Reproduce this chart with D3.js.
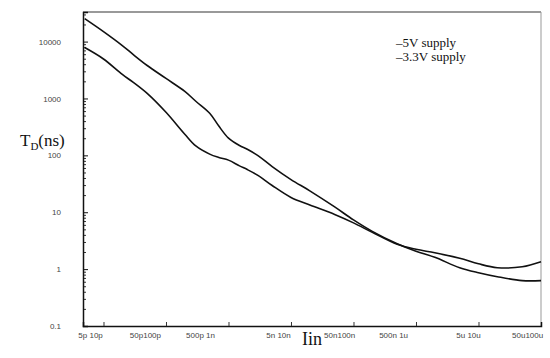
<!DOCTYPE html>
<html lang="en">

<head>
  <meta charset="UTF-8">
  <script src="https://cdn.jsdelivr.net/npm/d3@7"></script>
  <title>TD vs Iin</title>
  <style>
    body { margin: 0; background: white; }
    .tick text { font-family: "Liberation Sans", Arial, sans-serif; font-size: 8px; fill: #444; }
    .curve { fill: none; stroke: #111; stroke-width: 1.6; }
    .serif { font-family: "Liberation Serif", "Times New Roman", serif; fill: #111; }
  </style>
</head>

<body>
  <script>
    // input current (A)
    const current = [5e-12, 1e-11, 2e-11, 3e-11, 5e-11, 1e-10, 2e-10, 3e-10, 5e-10, 7e-10, 1e-9, 1.5e-9,
      2e-9, 3e-9, 5e-9, 1e-8, 2e-8, 5e-8, 1e-7, 2e-7, 5e-7, 1e-6, 2e-6, 5e-6, 1e-5, 2e-5, 5e-5, 1e-4];
    // delay (ns)
    const td5V = [25300, 14960, 8510, 5900, 3800, 2250, 1330, 893, 551, 327, 201, 149,
      128, 97.8, 63.4, 37.5, 23.8, 12.4, 7.33, 4.61, 2.79, 2.06, 1.61, 1.06, 0.865, 0.736, 0.627, 0.627];
    const td33V = [7850, 4940, 2640, 1919, 1228, 571, 235, 146, 105, 91.8, 82.4, 65.3,
      56.2, 44, 29.5, 18.2, 13.4, 9.14, 6.5, 4.43, 2.73, 2.23, 1.94, 1.55, 1.24, 1.06, 1.10, 1.35];

    const yTicks = [10000, 1000, 100, 10, 1, 0.1];
    const yTickLabels = ["10000", "1000", "100", "10", "1", "0.1"];
    const xLabelAt = [6.1e-12, 4.6e-11, 3.5e-10, 6.2e-9, 5.9e-8, 4.3e-7, 6.8e-6, 6.0e-5];
    const xTickLabels = ["5p 10p", "50p100p", "500p 1n", "5n 10n", "50n100n", "500n 1u", "5u 10u", "50u100u"];
    const xDecades = [1e-11, 1e-10, 1e-9, 1e-8, 1e-7, 1e-6, 1e-5];
    const seriesNames = ["\u20135V supply", "\u20133.3V supply"];

    const W = 550, H = 358;
    const m = { top: 12, right: 9, bottom: 32, left: 83 };

    const svg = d3.select('body').append('svg')
      .attr('width', W)
      .attr('height', H)

    const x = d3.scaleLog().domain([4.7e-12, 1e-4]).range([m.left, W - m.right]);
    const y = d3.scaleLog().domain([0.1, Math.pow(10, 4.52)]).range([H - m.bottom, m.top]);

    // frame: top and right grey
    svg.append('line').attr('x1', m.left).attr('x2', W - m.right).attr('y1', m.top).attr('y2', m.top)
      .attr('stroke', '#777').attr('stroke-width', 1.5);
    svg.append('line').attr('x1', W - m.right).attr('x2', W - m.right).attr('y1', m.top).attr('y2', H - m.bottom)
      .attr('stroke', '#999').attr('stroke-width', 1);

    // minor ticks on y axis
    const minor = [];
    for (let e = -1; e < 5; e++) for (let k = 2; k < 10; k++) {
      const v = k * Math.pow(10, e);
      if (v < y.domain()[1]) minor.push(v);
    }
    svg.append('g').attr('transform', `translate(${m.left},0)`)
      .call(d3.axisLeft(y).tickValues(minor).tickSize(-3).tickFormat(''))
      .call(g => g.select('.domain').remove())
      .call(g => g.selectAll('line').attr('stroke', '#333'));

    svg.append('g').attr('transform', `translate(${m.left},0)`)
      .call(d3.axisLeft(y).tickValues(yTicks).tickSize(-5).tickPadding(22)
        .tickFormat((d, i) => yTickLabels[i]))
      .call(g => g.select('.domain').attr('stroke', '#111').attr('stroke-width', 1.5))
      .call(g => g.selectAll('line').attr('stroke', '#111'));

    // x axis
    svg.append('g').attr('transform', `translate(0,${H - m.bottom})`)
      .call(d3.axisBottom(x).tickValues(xDecades).tickSize(-4).tickFormat(''))
      .call(g => g.select('.domain').attr('stroke', '#111').attr('stroke-width', 1.5))
      .call(g => g.selectAll('line').attr('stroke', '#333'));

    svg.append('g').attr('transform', `translate(0,${H - m.bottom})`)
      .call(d3.axisBottom(x).tickValues(xLabelAt).tickSize(0).tickPadding(6)
        .tickFormat((d, i) => xTickLabels[i]))
      .call(g => g.select('.domain').remove());

    // curves
    const line = d3.line()
      .x(d => x(d[0]))
      .y(d => y(d[1]))
      .curve(d3.curveCatmullRom);

    [td5V, td33V].forEach(s => {
      svg.append('path').attr('class', 'curve')
        .attr('d', line(current.map((c, i) => [c, s[i]])));
    });

    // legend
    svg.selectAll('text.leg').data(seriesNames).enter()
      .append('text').attr('class', 'leg serif')
      .attr('x', 396).attr('y', (d, i) => 47 + i * 14)
      .style('font-size', '13px')
      .text(d => d);

    // axis titles
    const yt = svg.append('text').attr('class', 'serif')
      .attr('x', 20).attr('y', 146).style('font-size', '17px');
    yt.append('tspan').text('T');
    yt.append('tspan').attr('dy', 4).style('font-size', '11px').text('D');
    yt.append('tspan').attr('dy', -4).text('(ns)');

    svg.append('text').attr('class', 'serif')
      .attr('x', 302).attr('y', 345).style('font-size', '18px')
      .text('Iin');
  </script>
</body>

</html>
